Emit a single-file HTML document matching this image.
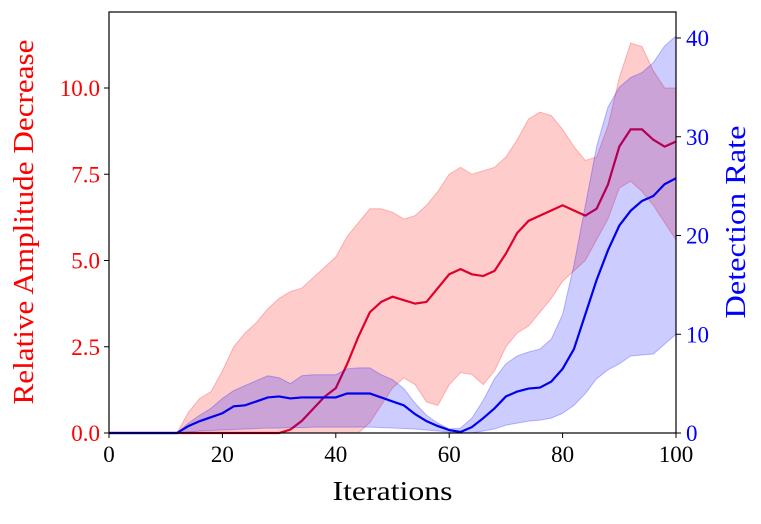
<!DOCTYPE html>
<html><head><meta charset="utf-8"><style>
body{margin:0;background:#fff}
svg text{font-family:"Liberation Serif","DejaVu Serif",serif}
</style></head><body>
<svg id="chart" width="761" height="519" xmlns="http://www.w3.org/2000/svg"></svg>
<script>
const iterations=[0,2,4,6,8,10,12,14,16,18,20,22,24,26,28,30,32,34,36,38,40,42,44,46,48,50,52,54,56,58,60,62,64,66,68,70,72,74,76,78,80,82,84,86,88,90,92,94,96,98,100];
const ampMean=[0,0,0,0,0,0,0,0,0,0,0,0,0,0,0,0,0.1,0.35,0.7,1.05,1.3,2.0,2.8,3.5,3.8,3.95,3.85,3.75,3.8,4.2,4.6,4.75,4.6,4.55,4.7,5.2,5.8,6.15,6.3,6.45,6.6,6.45,6.3,6.5,7.2,8.3,8.8,8.8,8.5,8.3,8.45];
const ampUpper=[0,0,0,0,0,0,0,0.6,1.0,1.2,1.8,2.5,2.9,3.2,3.6,3.9,4.1,4.2,4.5,4.8,5.1,5.7,6.1,6.5,6.5,6.4,6.2,6.3,6.6,7.0,7.5,7.7,7.5,7.6,7.7,8.0,8.5,9.1,9.3,9.2,8.8,8.3,7.9,8.0,8.9,10.3,11.3,11.2,10.5,10.0,10.0];
const ampLower=[0,0,0,0,0,0,0,0,0,0,0,0,0,0,0,0,0,0,0,0,0,0,0,0.3,0.8,1.3,1.6,1.4,0.9,0.8,1.4,1.75,1.7,1.4,1.8,2.5,2.9,3.1,3.5,3.9,4.4,4.7,5.0,5.6,6.2,7.1,7.3,7.0,6.6,6.1,5.6];
const detMean=[0,0,0,0,0,0,0,0.7,1.2,1.6,2.0,2.7,2.8,3.2,3.6,3.7,3.5,3.6,3.6,3.6,3.6,4.0,4.0,4.0,3.6,3.2,2.8,1.9,1.2,0.7,0.3,0.1,0.6,1.5,2.5,3.7,4.2,4.5,4.6,5.2,6.5,8.5,12,15.5,18.5,21,22.5,23.5,24,25.2,25.8];
const detUpper=[0,0,0,0,0,0,0,1,1.8,2.5,3.5,4.3,4.8,5.3,5.8,5.6,5.0,5.8,5.9,5.9,5.9,6.5,6.6,6.6,5.9,5.4,4.5,3,1.8,1.0,0.4,0.5,1.5,3.3,5.5,7.0,7.8,8.2,8.5,9.5,12,17,23,29,33,35,36,36.5,37.5,39.2,40.2];
const detLower=[0,0,0,0,0,0,0,0.1,0.2,0.25,0.3,0.35,0.4,0.45,0.5,0.5,0.55,0.55,0.6,0.6,0.6,0.6,0.6,0.6,0.55,0.5,0.45,0.4,0.3,0.2,0.1,0,0,0.2,0.4,0.8,1.0,1.2,1.3,1.5,2,2.8,4,5.5,6.4,7.0,7.8,7.9,8,9,10];
const xTicks=[0,20,40,60,80,100];
const leftTicks=[0,2.5,5,7.5,10];
const leftLabels=["0.0","2.5","5.0","7.5","10.0"];
const rightTicks=[0,10,20,30,40];

const L=109,R=676,T=12,B=433;
const sx=v=>L+(v-0)/100*(R-L);
const syL=v=>B-v*34.5;
const syR=v=>B-v*(B-38)/40;
const svg=document.getElementById('chart');
const NS="http://www.w3.org/2000/svg";
function mk(tag,attrs,parent){const e=document.createElementNS(NS,tag);for(const k in attrs)e.setAttribute(k,attrs[k]);(parent||svg).appendChild(e);return e;}
function band(up,lo,sy,fill,stroke,name){
  let d="M"+iterations.map((x,i)=>sx(x)+","+sy(up[i])).join("L");
  for(let i=iterations.length-1;i>=0;i--)d+="L"+sx(iterations[i])+","+sy(lo[i]);
  const p=mk('path',{d:d+"Z",fill:fill,stroke:stroke,'stroke-width':1});
  
  
}
function line(vals,sy,color,name){
  const p=mk('path',{d:"M"+iterations.map((x,i)=>sx(x)+","+sy(vals[i])).join("L"),fill:"none",stroke:color,'stroke-width':2.2});
  
  
}
band(ampUpper,ampLower,syL,"rgba(255,0,0,0.2)","rgba(255,0,0,0.25)","amplitude-band");
line(ampMean,syL,"#e0002a","amplitude-line");
band(detUpper,detLower,syR,"rgba(0,0,255,0.2)","rgba(0,0,255,0.25)","detection-band");
line(detMean,syR,"#0000ee","detection-line");
const fr=mk('rect',{x:L,y:T,width:R-L,height:B-T,fill:"none",stroke:"#000",'stroke-width':1.2});


xTicks.forEach(v=>{
  mk('line',{x1:sx(v),x2:sx(v),y1:B,y2:B+5,stroke:"#000"});
  const t=mk('text',{x:sx(v),y:B+29,'text-anchor':'middle','font-size':23});
  t.textContent=v;
  
  
});
leftTicks.forEach((v,i)=>{
  mk('line',{x1:L-5,x2:L,y1:syL(v),y2:syL(v),stroke:"#000"});
  const t=mk('text',{x:L-9,y:syL(v)+8,'text-anchor':'end','font-size':23,fill:"#ff0000"});
  t.textContent=leftLabels[i];
  
  
});
rightTicks.forEach(v=>{
  mk('line',{x1:R,x2:R+5,y1:syR(v),y2:syR(v),stroke:"#000"});
  const t=mk('text',{x:R+10,y:syR(v)+8,'font-size':23,fill:"#0000ff"});
  t.textContent=v;
  
  
});
let t=mk('text',{x:(L+R)/2,y:500,'text-anchor':'middle','font-size':27,textLength:120,lengthAdjust:'spacingAndGlyphs'});
t.textContent="Iterations";


t=mk('text',{x:0,y:0,'text-anchor':'middle','font-size':28,fill:"#ff0000",textLength:365,lengthAdjust:'spacingAndGlyphs',transform:"translate(33,222) rotate(-90)"});
t.textContent="Relative Amplitude Decrease";


t=mk('text',{x:0,y:0,'text-anchor':'middle','font-size':28,fill:"#0000ff",textLength:193,lengthAdjust:'spacingAndGlyphs',transform:"translate(745,222) rotate(-90)"});
t.textContent="Detection Rate";


</script>
</body></html>
